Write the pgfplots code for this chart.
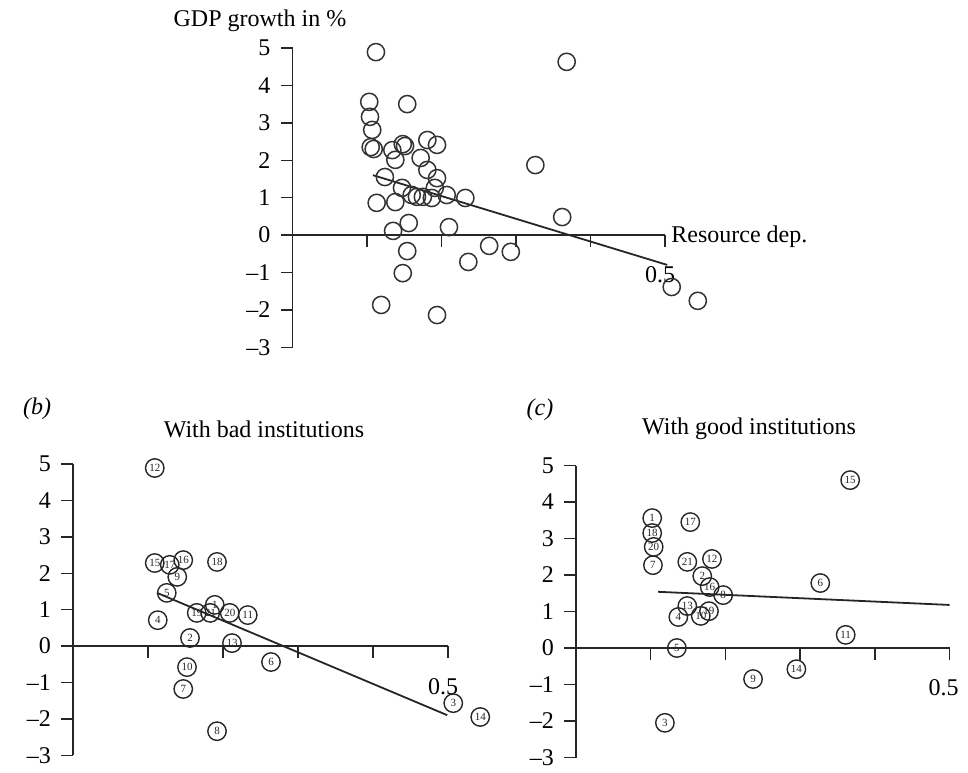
\documentclass[border=0pt]{standalone}
\usepackage{fontspec}
\setmainfont{Liberation Serif}
\usepackage{pgfplots}
\usepackage{pgfplotstable}
\pgfplotsset{compat=1.18}

\pgfplotstableread{
x y
0.112 4.89
0.368 4.63
0.103 3.56
0.154 3.50
0.104 3.16
0.107 2.81
0.105 2.35
0.109 2.30
0.134 2.27
0.148 2.43
0.151 2.38
0.138 2.01
0.181 2.54
0.194 2.41
0.172 2.06
0.181 1.74
0.194 1.52
0.124 1.55
0.326 1.87
0.147 1.26
0.191 1.26
0.160 1.07
0.167 1.02
0.175 1.02
0.187 0.99
0.207 1.07
0.232 0.99
0.113 0.86
0.138 0.88
0.362 0.48
0.156 0.32
0.135 0.11
0.210 0.21
0.154 -0.43
0.264 -0.29
0.293 -0.45
0.236 -0.72
0.148 -1.02
0.119 -1.87
0.194 -2.14
0.509 -1.39
0.544 -1.76
}\alldata

\pgfplotstableread{
x y lab
0.109 4.89 12
0.109 2.28 15
0.129 2.23 17
0.147 2.36 16
0.139 1.90 9
0.192 2.31 18
0.125 1.46 5
0.113 0.71 4
0.165 0.91 19
0.183 0.91 21
0.189 1.13 1
0.209 0.91 20
0.233 0.85 11
0.156 0.22 2
0.212 0.08 13
0.264 -0.44 6
0.152 -0.58 10
0.147 -1.18 7
0.192 -2.34 8
0.507 -1.57 3
0.543 -1.95 14
}\baddata

\pgfplotstableread{
x y lab
0.102 3.56 1
0.102 3.15 18
0.104 2.77 20
0.103 2.27 7
0.153 3.45 17
0.149 2.36 21
0.182 2.44 12
0.169 1.97 2
0.179 1.67 16
0.197 1.45 8
0.149 1.15 13
0.137 0.85 4
0.167 0.88 10
0.178 1.01 19
0.135 0.00 5
0.119 -2.05 3
0.237 -0.85 9
0.295 -0.58 14
0.361 0.36 11
0.327 1.78 6
0.367 4.60 15
}\gooddata

\pgfplotsset{
  myax/.style={
    axis lines=middle,
    axis line style={-, line width=0.7pt, black!85},
    xmin=0, xmax=0.5, ymin=-3, ymax=5,
    xtick={0.1,0.2,0.3,0.4,0.5}, xticklabels={},
    ytick={-3,-2,-1,0,1,2,3,4,5},
    yticklabels={--3,--2,--1,0,1,2,3,4,5},
    hide obscured x ticks=false, hide obscured y ticks=false,
    major tick length=6pt,
    tick align=center,
    every tick/.style={line width=0.7pt, black!85},
    xtick style={yshift=-3pt}, ytick style={xshift=-3pt},
    tick label style={font=\fontsize{12}{12}\selectfont},
    yticklabel style={anchor=east, xshift=-4.5pt},
    clip=false,
    anchor=origin,
  },
  circ/.style={only marks, mark=o, mark size=4.3pt,
    mark options={line width=0.75pt, draw=black!80}},
  labcirc/.style={only marks, mark=o, mark size=4.6pt,
    mark options={line width=0.7pt, draw=black!85},
    point meta=explicit symbolic,
    nodes near coords,
    every node near coord/.append style={anchor=center, inner sep=0pt,
      font=\fontsize{5.5}{5.5}\selectfont, text=black!85}},
}

\begin{document}
\begin{tikzpicture}
\useasboundingbox (0pt,0pt) rectangle (484pt,-386pt);

% top panel
\begin{axis}[myax, at={(146.25pt,-117.5pt)}, x=372.5pt, y=18.7pt]
\addplot[circ] table[x=x,y=y] {\alldata};
\addplot[black!85, line width=0.9pt] coordinates {(0.108,1.60) (0.503,-0.80)};
\node[font=\fontsize{12}{12}\selectfont] at (axis cs:0.5,0) [xshift=-2.5pt, yshift=-20pt] {0.5};
\end{axis}

% bad institutions
\begin{axis}[myax, at={(36.5pt,-323pt)}, x=375pt, y=18.2pt]
\addplot[labcirc] table[x=x,y=y,meta=lab] {\baddata};
\addplot[black!85, line width=0.9pt] coordinates {(0.112,1.46) (0.499,-1.90)};
\node[font=\fontsize{12}{12}\selectfont] at (axis cs:0.5,0) [xshift=-2.5pt, yshift=-20.5pt] {0.5};
\end{axis}

% good institutions
\begin{axis}[myax, at={(288pt,-324pt)}, x=373.5pt, y=18.25pt]
\addplot[labcirc] table[x=x,y=y,meta=lab] {\gooddata};
\addplot[black!85, line width=0.9pt] coordinates {(0.110,1.54) (0.500,1.18)};
\node[font=\fontsize{12}{12}\selectfont] at (axis cs:0.5,0) [xshift=-3pt, yshift=-20pt] {0.5};
\end{axis}

\node[font=\fontsize{12}{12}\selectfont] at (130pt,-10.5pt) {GDP growth in \%};
\node[font=\fontsize{12}{12}\selectfont, anchor=west, inner sep=0pt] at (335.5pt,-118.5pt) {Resource dep.};
\node[font=\fontsize{12}{12}\selectfont\itshape] at (18.5pt,-204.5pt) {(b)};
\node[font=\fontsize{12}{12}\selectfont] at (132pt,-214.5pt) {With bad institutions};
\node[font=\fontsize{12}{12}\selectfont\itshape] at (270pt,-205pt) {(c)};
\node[font=\fontsize{12}{12}\selectfont] at (374.5pt,-214.5pt) {With good institutions};
\end{tikzpicture}
\end{document}
